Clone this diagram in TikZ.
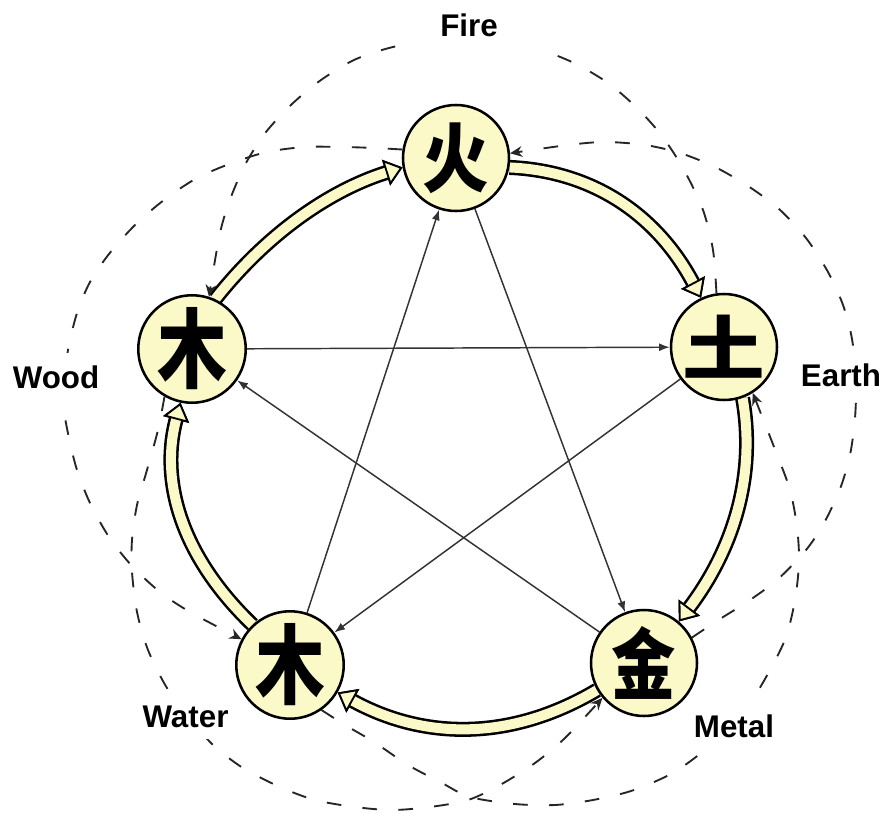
\documentclass[tikz,border=0pt]{standalone}
\usepackage{graphicx}
\usepackage{fontspec}
\newfontfamily\labfont{Liberation Sans}
\newfontfamily\cjkfont{Noto Sans CJK SC}
\usetikzlibrary{arrows.meta}
\definecolor{cream}{RGB}{252,249,200}
\pgfdeclarelayer{back}
\pgfsetlayers{back,main}
\begin{document}
\begin{tikzpicture}[x=0.75pt,y=-0.75pt,
  elem/.style={circle,draw=black,line width=1.9pt,fill=cream,minimum size=79.5pt,inner sep=0pt,font=\cjkfont\bfseries\fontsize{58pt}{58pt}\selectfont},
  lbl/.style={fill=white,inner xsep=3pt,inner ysep=9pt,anchor=base,font=\labfont\bfseries\fontsize{23.5pt}{28pt}\selectfont},
  ctrl/.style={draw=black!80,line width=1.1pt,-{Latex[length=8pt,width=6pt]}},
  insult/.style={draw=black!85,line width=1.4pt,dash pattern=on 11pt off 16pt,-{Stealth[length=9pt,width=8pt]}},
  gen/.style={draw=cream,line width=7.5pt,
    -{Triangle[length=13pt,width=20pt,color=black,fill=cream,line width=1.4pt]},
    preaction={draw=black,line width=11.3pt}}
]
\useasboundingbox (0,0) rectangle (885,813);

\node[elem] (fire)  at (456,158) {\scalebox{0.86}[0.97]{火}};
\node[elem] (earth) at (724,347) {\scalebox{1.07}[0.9]{土}};
\node[elem] (metal) at (644,663) {\scalebox{0.83}[1.0]{金}};
\node[elem] (water) at (290,665) {\scalebox{0.9}[1.12]{木}};
\node[elem] (wood)  at (192,349) {\scalebox{0.9}[1.12]{木}};

\begin{pgfonlayer}{back}
\fill[white] (0,0) rectangle (885,813);
% controlling cycle
\draw[ctrl] (wood) -- (earth);
\draw[ctrl] (earth) -- (water);
\draw[ctrl] (water) -- (fire);
\draw[ctrl] (fire) -- (metal);
\draw[ctrl] (metal) -- (wood);
% generating cycle
\draw[gen] (wood.65) .. controls (266,235) and (328,191) .. (fire.190);
\draw[gen] (fire.-10) .. controls (593,171) and (657,215) .. (earth.115);
\draw[gen] (earth.-70) .. controls (756,473) and (735,547) .. (metal.50);
\draw[gen] (metal.-150) .. controls (513,740) and (426,741) .. (water.-30);
\draw[gen] (water.133) .. controls (180,555) and (160,480) .. (wood.-102);
% insulting cycle
\draw[insult] plot[smooth] coordinates {(earth.98) (713,250) (703,210) (684,170) (662,136) (637,108) (608,83) (574,63) (538,49) (500,41) (462,38) (425,41) (389,48) (354,60) (321,80) (292,104) (266,132) (246,163) (231,197) (220,233) (wood.72)};
\draw[insult] plot[smooth] coordinates {(fire.171) (375,148) (342,147) (305,147) (267,152) (232,163) (197,178) (164,200) (135,225) (109,254) (90,282) (77,313) (68,350) (64,385) (64,410) (69,438) (77,470) (90,503) (109,537) (132,566) (160,592) (190,612) (water.152)};
\draw[insult] plot[smooth] coordinates {(metal.28) (720,619) (747,602) (777,580) (806,550) (824,523) (840,489) (850,455) (855,418) (856,380) (852,339) (843,305) (828,272) (806,238) (779,209) (748,186) (715,167) (680,153) (645,145) (605,142) (568,145) (fire.5)};
\draw[insult] plot[smooth] coordinates {(wood.-120) (158,430) (147,470) (137,505) (132,540) (132,572) (137,612) (148,650) (167,688) (190,718) (213,745) (243,768) (280,787) (315,800) (355,807) (392,810) (430,807) (468,800) (500,785) (535,763) (565,738) (metal.-140)};
\draw[insult] plot[smooth] coordinates {(water.-55) (345,725) (374,742) (408,765) (442,783) (470,797) (515,804) (555,805) (593,800) (631,791) (667,776) (692,760) (722,735) (750,703) (770,670) (786,637) (795,600) (799,562) (797,527) (790,490) (776,452) (earth.-58)};
\end{pgfonlayer}

\node[lbl,minimum width=104pt,inner ysep=10pt] (lfire) at (469,37) {Fire};
\node[lbl,inner ysep=11pt] (learth) at (841,386) {Earth};
\node[lbl] (lmetal) at (734,737) {Metal};
\node[lbl] (lwater) at (185.5,727) {Water};
\node[lbl] (lwood) at (56,388) {Wood};
\end{tikzpicture}
\end{document}
